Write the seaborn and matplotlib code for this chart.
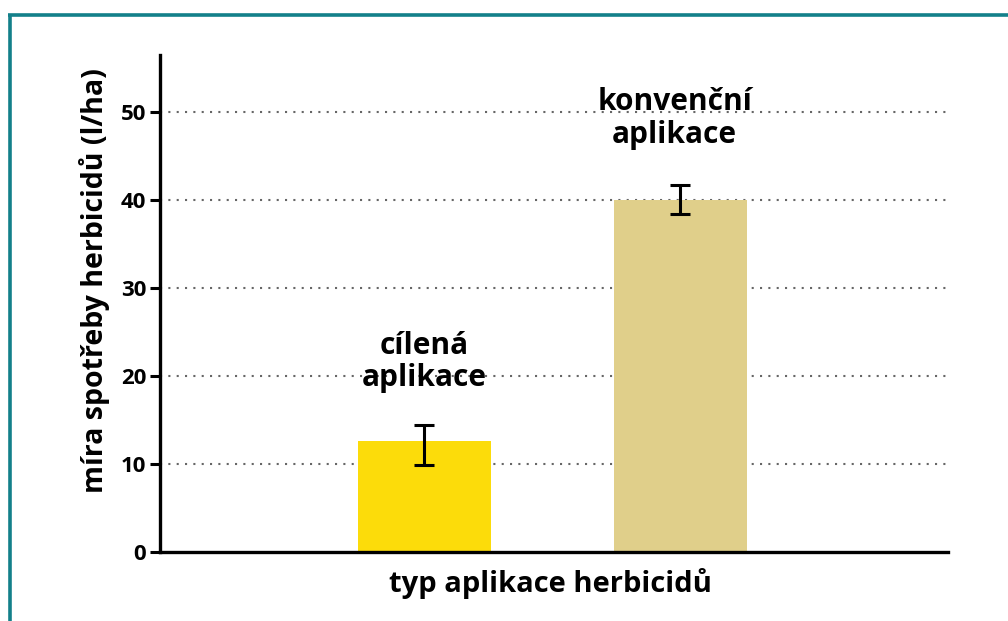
import matplotlib
matplotlib.use("Agg")
import matplotlib.pyplot as plt
import matplotlib.lines as mlines
import seaborn as sns
import pandas as pd
import numpy as np

# Herbicide consumption by application type
categories = ["cílená\naplikace", "konvenční\naplikace"]
rates = [12.6, 40.0]
ci_low = [9.85, 38.4]
ci_high = [14.4, 41.7]
bar_colors = ["#fcdc0a", "#e0cf8a"]
y_ticks = [0, 10, 20, 30, 40, 50]

sns.set_theme(style="white")
plt.rcParams["font.family"] = ["Open Sans", "DejaVu Sans"]
plt.rcParams["font.weight"] = "bold"
plt.rcParams["text.color"] = "black"
plt.rcParams["axes.labelcolor"] = "black"
plt.rcParams["ytick.color"] = "black"
plt.rcParams["xtick.color"] = "black"

fig = plt.figure(figsize=(10.08, 6.21), dpi=100)
ax = fig.add_axes([0.1587, 0.111, 0.7818, 0.8003])

df = pd.DataFrame({"typ": categories, "mira": rates})
sns.barplot(data=df, x="typ", y="mira", hue="typ", palette=bar_colors,
            legend=False, errorbar=None, width=0.52, saturation=1,
            ax=ax, zorder=3, linewidth=0)

xpos = np.arange(len(categories))
means = np.array(rates)
yerr = np.vstack([means - np.array(ci_low), np.array(ci_high) - means])
ax.errorbar(xpos, means, yerr=yerr, fmt="none", ecolor="black",
            elinewidth=2.2, capsize=7, capthick=2.2, zorder=4)

# category labels above each bar
label_y = [21.6, 49.3]
label_x = [0.0, 0.977]
for x, y, txt in zip(label_x, label_y, categories):
    ax.text(x, y, txt, ha="center", va="center", fontsize=21.5,
            fontweight="bold", linespacing=1.1, zorder=5, color="black")

ax.set_xlim(-1.033, 2.045)
ax.set_ylim(0, 56.5)
ax.set_yticks(y_ticks)
ax.set_yticklabels([str(t) for t in y_ticks], fontsize=16, fontweight="bold",
                   color="black")
ax.set_xticks([])
ax.set_xlabel("typ aplikace herbicidů", fontsize=21, fontweight="bold",
              color="black")
ax.xaxis.set_label_coords(0.495, -0.032)
ax.set_ylabel("míra spotřeby herbicidů (l/ha)", fontsize=20.5,
              fontweight="bold", color="black")
ax.yaxis.set_label_coords(-0.064, 0.547)

for y in y_ticks[1:]:
    ax.axhline(y, color="#666666", linestyle=(0, (1, 3)), linewidth=1.5,
               zorder=1)

for side in ["top", "right"]:
    ax.spines[side].set_visible(False)
for side in ["left", "bottom"]:
    ax.spines[side].set_linewidth(2.4)
    ax.spines[side].set_color("black")
    ax.spines[side].set_zorder(6)
ax.tick_params(axis="y", direction="out", length=7, width=2.2,
               color="black", pad=3, left=True)

# teal frame along the top and left edges of the figure
teal = "#13808a"
fig.add_artist(mlines.Line2D([9.5 / 1008, 9.5 / 1008], [0, 1 - 14.5 / 621],
                             transform=fig.transFigure, color=teal,
                             linewidth=2.6, solid_capstyle="butt"))
fig.add_artist(mlines.Line2D([8.2 / 1008, 1], [1 - 14.5 / 621, 1 - 14.5 / 621],
                             transform=fig.transFigure, color=teal,
                             linewidth=2.6, solid_capstyle="butt"))

fig.savefig("out.png", dpi=100)
